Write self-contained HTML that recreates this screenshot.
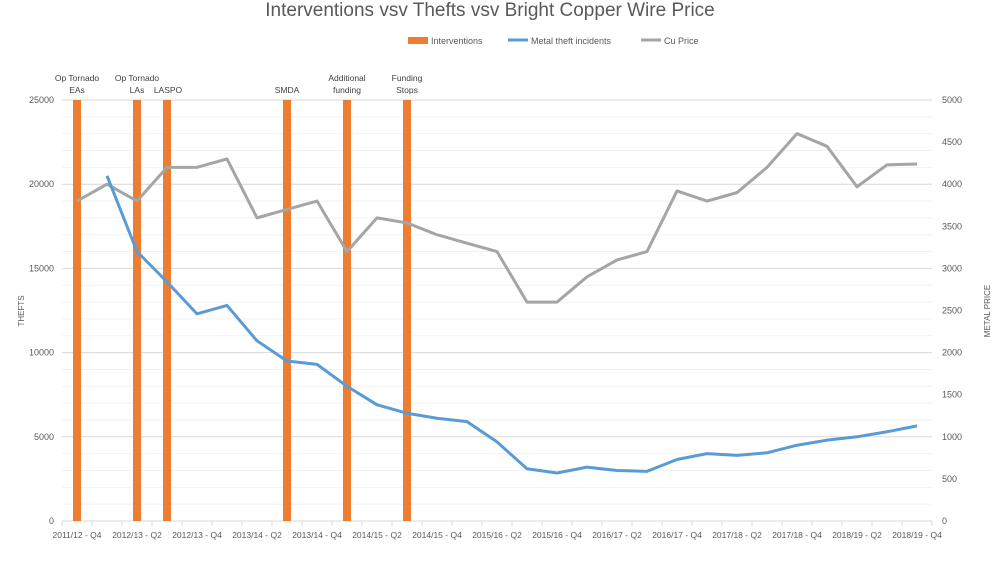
<!DOCTYPE html>
<html><head><meta charset="utf-8"><style>
body{margin:0;background:#fff;font-family:"Liberation Sans",sans-serif}
</style></head><body>
<svg id="s" width="1000" height="563" xmlns="http://www.w3.org/2000/svg" font-family="Liberation Sans, sans-serif"></svg>
<script>
const s=document.getElementById('s');let h='';
const X0=62,X1=932,Y0=521,Y1=100;
const cx=i=>77+30*i, yl=v=>Y0-v/25000*(Y0-Y1), yr=v=>Y0-v/5000*(Y0-Y1);
h+=`<text x="490" y="16" font-size="19" fill="#595959" text-anchor="middle">Interventions vsv Thefts vsv Bright Copper Wire Price</text>`;
h+=`<rect x="408" y="37" width="20" height="7" fill="#ed7d31"/><text x="431" y="44" font-size="9" fill="#595959">Interventions</text>`;
h+=`<line x1="508" y1="40" x2="528" y2="40" stroke="#5b9bd5" stroke-width="3"/><text x="531" y="44" font-size="9" fill="#595959">Metal theft incidents</text>`;
h+=`<line x1="641" y1="40" x2="661" y2="40" stroke="#a5a5a5" stroke-width="3"/><text x="664" y="44" font-size="9" fill="#595959">Cu Price</text>`;
for(let v=0;v<=25000;v+=1000){const y=yl(v);h+=`<line x1="${X0}" x2="${X1}" y1="${y}" y2="${y}" stroke="${v%5000?'#f2f2f2':'#d9d9d9'}" stroke-width="1"/>`;}
for(let v=0;v<=25000;v+=5000){h+=`<text x="54" y="${yl(v)+3}" font-size="9" fill="#595959" text-anchor="end">${v}</text>`;}
for(let v=0;v<=5000;v+=500){h+=`<text x="942" y="${yr(v)+3}" font-size="9" fill="#595959">${v}</text>`;}
for(let i=0;i<=29;i++){const x=62+30*i;h+=`<line x1="${x}" x2="${x}" y1="521" y2="526" stroke="#d9d9d9"/>`;}
const labs=["2011/12 - Q4","2012/13 - Q2","2012/13 - Q4","2013/14 - Q2","2013/14 - Q4","2014/15 - Q2","2014/15 - Q4","2015/16 - Q2","2015/16 - Q4","2016/17 - Q2","2016/17 - Q4","2017/18 - Q2","2017/18 - Q4","2018/19 - Q2","2018/19 - Q4"];
labs.forEach((l,k)=>h+=`<text x="${cx(2*k)}" y="538" font-size="8.5" fill="#595959" text-anchor="middle">${l}</text>`);
h+=`<text transform="translate(24,311) rotate(-90)" font-size="8" fill="#595959" text-anchor="middle">THEFTS</text>`;
h+=`<text transform="translate(990,311) rotate(-90)" font-size="8" fill="#595959" text-anchor="middle">METAL PRICE</text>`;
[[0,"Op Tornado","EAs"],[2,"Op Tornado","LAs"],[3,"","LASPO"],[7,"","SMDA"],[9,"Additional","funding"],[11,"Funding","Stops"]].forEach(([i,a,b])=>{
 let x=cx(i);h+=`<rect x="${x-4}" y="100" width="8" height="421" fill="#ed7d31"/>`;
 if(a)h+=`<text x="${x}" y="81" font-size="8.5" fill="#404040" text-anchor="middle">${a}</text>`;
 h+=`<text x="${i==3?x+1:x}" y="93" font-size="8.5" fill="#404040" text-anchor="middle">${b}</text>`;
});
const cu=[3800,4000,3800,4200,4200,4300,3600,3700,3800,3200,3600,3540,3400,3300,3200,2600,2600,2900,3100,3200,3920,3800,3900,4200,4600,4450,3970,4230,4240];
h+=`<polyline fill="none" stroke="#a5a5a5" stroke-width="3" stroke-linejoin="round" points="${cu.map((v,i)=>cx(i)+','+yr(v)).join(' ')}"/>`;
const th=[null,20500,16000,14200,12300,12800,10700,9500,9300,8000,6900,6400,6100,5900,4700,3100,2850,3200,3000,2950,3650,4000,3900,4050,4500,4800,5000,5300,5650];
h+=`<polyline fill="none" stroke="#5b9bd5" stroke-width="3" stroke-linejoin="round" points="${th.map((v,i)=>v==null?'':cx(i)+','+yl(v)).join(' ')}"/>`;
s.innerHTML=h;
</script>
</body></html>
